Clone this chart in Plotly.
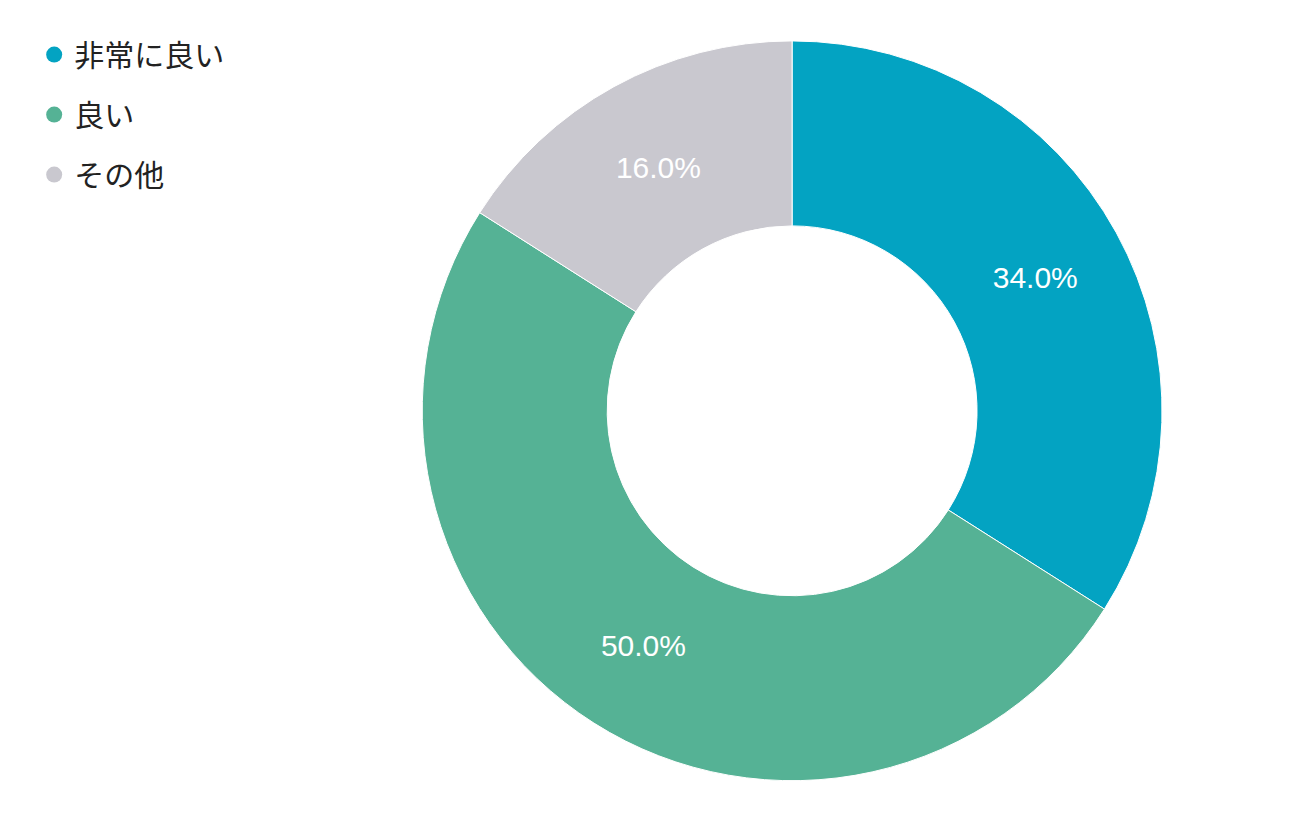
import plotly.graph_objects as go

labels = ["非常に良い", "良い", "その他"]
values = [34.0, 50.0, 16.0]
colors = ["#03A3C2", "#55B295", "#C9C8CF"]

fig = go.Figure()
fig.add_trace(go.Pie(
    labels=labels, values=values, hole=0.5, sort=False, direction="clockwise", rotation=0,
    marker=dict(colors=colors, line=dict(color="white", width=1)),
    texttemplate="%{value:.1f}%", textposition="inside", insidetextorientation="horizontal",
    textfont=dict(family="Liberation Sans, Arial", size=30, color="white"),
    showlegend=False, hoverinfo="label+percent",
    domain=dict(x=[0.316, 0.882], y=[0.061, 0.960]),
))
for i, (l, c) in enumerate(zip(labels, colors)):
    fig.add_trace(go.Scatter(x=[None], y=[None], mode="markers", name=l, legendgroup=f"g{i}",
                             marker=dict(color=c, size=24, symbol="circle")))

fig.update_layout(
    width=1309, height=823, margin=dict(l=0, r=0, t=0, b=0),
    paper_bgcolor="white", plot_bgcolor="white",
    xaxis=dict(visible=False), yaxis=dict(visible=False),
    legend=dict(x=0.02, y=0.975, xanchor="left", yanchor="top",
                font=dict(family="Noto Sans CJK JP", size=30, color="#222"),
                tracegroupgap=18, itemwidth=30),
)
fig.write_html("out.html")
